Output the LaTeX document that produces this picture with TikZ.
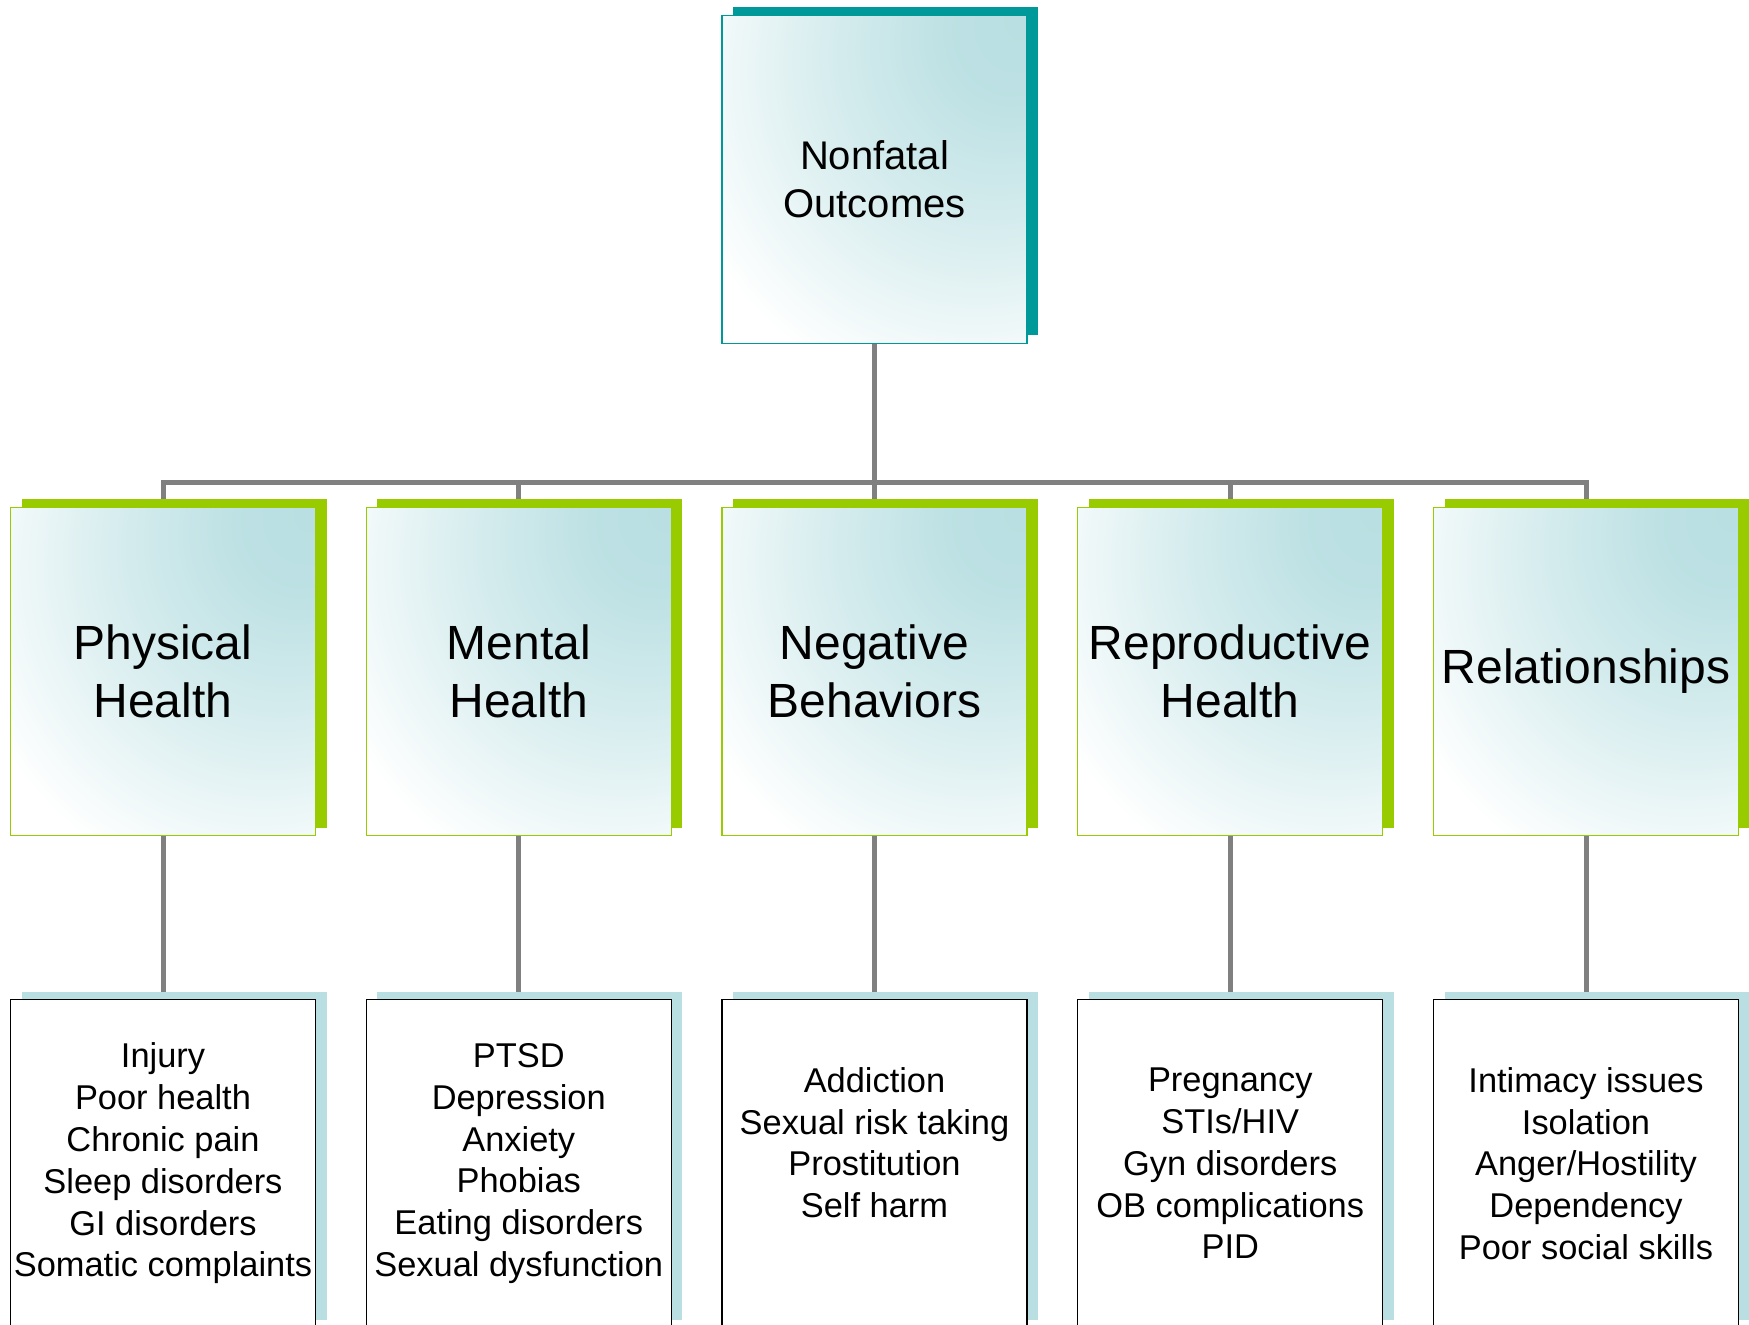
\documentclass[tikz,border=0pt]{standalone}
\usepackage{fontspec}
\setmainfont{Liberation Sans}
\usetikzlibrary{positioning,shadows,backgrounds}
\definecolor{tealdark}{HTML}{009999}
\definecolor{limegreen}{HTML}{99CC00}
\definecolor{paleteal}{HTML}{B9DFE2}
\definecolor{linkgray}{HTML}{808080}
\pgfdeclareradialshading{cornerglow}{\pgfpoint{25bp}{25bp}}{color(0bp)=(paleteal); color(10bp)=(paleteal!95!white); color(25bp)=(paleteal!62!white); color(35bp)=(paleteal!36!white); color(48bp)=(white); color(110bp)=(white)}
\tikzset{
  box/.style={rectangle, minimum width=152.5pt, minimum height=164pt, inner sep=0pt, outer sep=0pt, line width=0.7pt, align=center},
  root/.style={box, shading=cornerglow, draw=tealdark, font=\fontsize{20}{24}\selectfont,
    general shadow={fill=tealdark, shadow xshift=5.5pt, shadow yshift=4pt}},
  cat/.style={box, shading=cornerglow, draw=limegreen, font=\fontsize{24}{29}\selectfont,
    general shadow={fill=limegreen, shadow xshift=5.5pt, shadow yshift=4pt}},
  leaf/.style={box, fill=white, draw=black, font=\fontsize{17.2}{20.9}\selectfont,
    general shadow={fill=paleteal, shadow xshift=5.5pt, shadow yshift=4pt}},
  link/.style={draw=linkgray, line width=2.5pt}
}
\begin{document}
\begin{tikzpicture}
\useasboundingbox (0,0) rectangle (874.5pt,-662.5pt);
\node (root) [root] at (437.25pt,-89.75pt) {Nonfatal\\Outcomes};
\node (negbeh) [cat, below=82pt of root] {Negative\\Behaviors};
\node (menth) [cat, left=25.375pt of negbeh] {Mental\\Health};
\node (physh) [cat, left=25.375pt of menth] {Physical\\Health};
\node (reproh) [cat, right=25.375pt of negbeh] {Reproductive\\Health};
\node (relat) [cat, right=25.375pt of reproh] {Relationships};
\node (physl) [leaf, below=82pt of physh] {Injury\\Poor health\\Chronic pain\\Sleep disorders\\GI disorders\\Somatic complaints};
\node (mentl) [leaf, below=82pt of menth] {PTSD\\Depression\\Anxiety\\Phobias\\Eating disorders\\Sexual dysfunction};
\node (negl) [leaf, below=82pt of negbeh] {Addiction\\Sexual risk taking\\Prostitution\\Self harm\\\mbox{}};
\node (reprol) [leaf, below=82pt of reproh] {Pregnancy\\STIs/HIV\\Gyn disorders\\OB complications\\PID};
\node (relatl) [leaf, below=82pt of relat] {Intimacy issues\\Isolation\\Anger/Hostility\\Dependency\\Poor social skills};
\coordinate (bus) at ([yshift=-69.5pt]root.south);
\begin{scope}[on background layer]
\draw[link] (root) -- (bus);
\draw[link] (physh.north) |- (bus) -| (relat.north);
\draw[link] (bus) -| (menth.north);
\draw[link] (bus) -| (negbeh.north);
\draw[link] (bus) -| (reproh.north);
\draw[link] (physh) -- (physl);
\draw[link] (menth) -- (mentl);
\draw[link] (negbeh) -- (negl);
\draw[link] (reproh) -- (reprol);
\draw[link] (relat) -- (relatl);
\end{scope}
\end{tikzpicture}
\end{document}
